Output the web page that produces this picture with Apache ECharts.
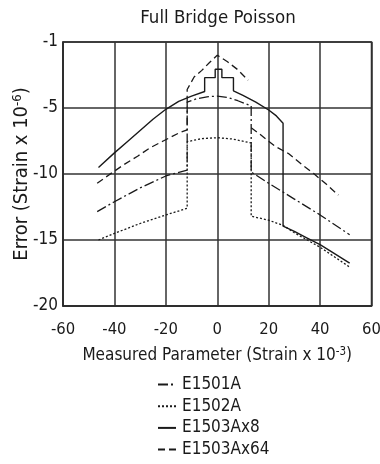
<!DOCTYPE html>
<html>
<head>
<meta charset="utf-8">
<script src="https://cdn.jsdelivr.net/npm/echarts@6/dist/echarts.min.js"></script>
<style>
  html, body { margin: 0; padding: 0; background: #fff; }
  #chart { width: 380px; height: 464px; }
</style>
</head>
<body>
<div id="chart"></div>
<script>
const FONT = "'Liberation Sans Narrow', 'DejaVu Sans Condensed', sans-serif";

const xTicks = [-60, -40, -20, 0, 20, 40, 60];
const yTicks = [-20, -15, -10, -5, 0];
const yTickLabels = ["-20", "-15", "-10", "-5", "-1"];

const seriesNames = ["E1501A", "E1502A", "E1503Ax8", "E1503Ax64"];

// E1501A (dash-dot)
const e1501aX = [-46.7, -40, -30, -20, -11.7, -11.7, -8, -4, 0, 4, 8, 13.2, 13.2, 20, 30, 40, 51.5];
const e1501aY = [-12.85, -12.1, -11.05, -10.15, -9.7, -4.55, -4.3, -4.15, -4.1, -4.2, -4.45, -4.85, -9.85, -10.7, -11.9, -13.1, -14.6];

// E1502A (dotted)
const e1502aX = [-46.2, -40, -30, -20, -11.7, -11.7, -6, 0, 6, 13.2, 13.2, 20, 25.7, 30, 35, 40, 45, 51.5];
const e1502aY = [-15.0, -14.5, -13.75, -13.1, -12.6, -7.55, -7.32, -7.25, -7.35, -7.65, -13.2, -13.5, -13.9, -14.45, -15.0, -15.55, -16.2, -17.05];

// E1503Ax8 (solid)
const e1503ax8X = [-46.2, -40, -35, -30, -25, -20, -15, -10, -4.9, -4.9, -0.8, -0.8, 1.8, 1.8, 6.3, 6.3, 10, 15, 20, 23, 25.6, 25.6, 30, 35, 40, 45, 51.5];
const e1503ax8Y = [-9.5, -8.4, -7.55, -6.7, -5.85, -5.1, -4.5, -4.1, -3.75, -2.7, -2.7, -2.07, -2.07, -2.7, -2.7, -3.7, -4.05, -4.55, -5.15, -5.6, -6.15, -13.95, -14.35, -14.85, -15.35, -15.95, -16.75];

// E1503Ax64 (dashed), null = break in the line
const e1503ax64X = [-46.7, -42, -36, -31, -26, -21, -15, -11.7, -11.7, -9, -6, -3, 0, 4, 8, 12, 12.6, 13.2, 16, 22.5, 27.7, 33, 37.4, 42.6, 47.1];
const e1503ax64Y = [-10.7, -10.05, -9.25, -8.65, -8.0, -7.5, -6.9, -6.65, -3.6, -2.65, -2.15, -1.55, -1.0, -1.5, -2.1, -2.9, null, -6.5, -6.9, -7.9, -8.45, -9.3, -9.95, -10.8, -11.6];

function pairs(xs, ys) {
  return xs.map((x, i) => [x, ys[i] === null ? "-" : ys[i]]);
}

function lineSeries(name, xs, ys, type, width) {
  return {
    type: "line",
    name: name,
    data: pairs(xs, ys),
    symbol: "none",
    showSymbol: false,
    animation: false,
    itemStyle: { color: "#1a1a1a" },
    lineStyle: { color: "#1a1a1a", width: width, type: type }
  };
}

const chart = echarts.init(document.getElementById("chart"), null, { renderer: "canvas" });

chart.setOption({
  textStyle: { fontFamily: FONT },
  title: {
    text: "Full Bridge Poisson",
    left: 213,
    top: 4,
    textAlign: "center",
    textStyle: { fontFamily: FONT, fontSize: 18.5, fontWeight: "normal", color: "#1a1a1a" }
  },
  legend: {
    data: seriesNames,
    orient: "vertical",
    left: 157,
    top: 376,
    height: 88,
    padding: 0,
    itemWidth: 18,
    itemHeight: 10,
    itemGap: 4.7,
    itemStyle: { opacity: 0 },
    textStyle: { fontFamily: FONT, fontSize: 17, color: "#1a1a1a", padding: [0, 0, 0, 1] }
  },
  grid: {
    left: 63,
    right: 8.5,
    top: 42,
    bottom: 158,
    outerBoundsMode: "none",
    show: true,
    borderColor: "#2a2a2a",
    borderWidth: 1.5
  },
  xAxis: {
    type: "value",
    min: xTicks[0],
    max: xTicks[xTicks.length - 1],
    interval: 20,
    name: "{a|Measured Parameter (Strain x 10}{b|-3}{a|)}",
    nameLocation: "middle",
    nameGap: 40,
    nameMoveOverlap: false,
    nameTextStyle: {
      rich: {
        a: { fontFamily: FONT, fontSize: 17, color: "#1a1a1a", lineHeight: 20 },
        b: { fontFamily: FONT, fontSize: 11.5, color: "#1a1a1a", verticalAlign: "top", lineHeight: 20 }
      }
    },
    axisLine: { onZero: false, lineStyle: { color: "#2a2a2a", width: 1.5 } },
    axisTick: { show: false },
    axisLabel: { margin: 15, fontFamily: FONT, fontSize: 16.5, color: "#1a1a1a" },
    splitLine: { show: true, lineStyle: { color: "#333", width: 1.5 } }
  },
  yAxis: {
    type: "value",
    min: yTicks[0],
    max: yTicks[yTicks.length - 1],
    interval: 5,
    name: "{a|Error (Strain x 10}{b|-6}{a|)}",
    nameLocation: "middle",
    nameGap: 31,
    nameMoveOverlap: false,
    nameTextStyle: {
      rich: {
        a: { fontFamily: FONT, fontSize: 20, color: "#1a1a1a", lineHeight: 21 },
        b: { fontFamily: FONT, fontSize: 13, color: "#1a1a1a", verticalAlign: "top", lineHeight: 21 }
      }
    },
    axisLine: { onZero: false, lineStyle: { color: "#2a2a2a", width: 1.5 } },
    axisTick: { show: false },
    axisLabel: {
      margin: 5,
      fontFamily: FONT,
      fontSize: 17,
      color: "#1a1a1a",
      formatter: function (v) {
        const i = yTicks.indexOf(v);
        return i >= 0 ? yTickLabels[i] : "";
      }
    },
    splitLine: { show: true, lineStyle: { color: "#333", width: 1.5 } }
  },
  series: [
    lineSeries("E1501A", e1501aX, e1501aY, [10, 3, 2, 3], 1.3),
    lineSeries("E1502A", e1502aX, e1502aY, [2, 2], 1.3),
    lineSeries("E1503Ax8", e1503ax8X, e1503ax8Y, "solid", 1.4),
    lineSeries("E1503Ax64", e1503ax64X, e1503ax64Y, [7, 4], 1.3)
  ]
});
</script>
</body>
</html>
